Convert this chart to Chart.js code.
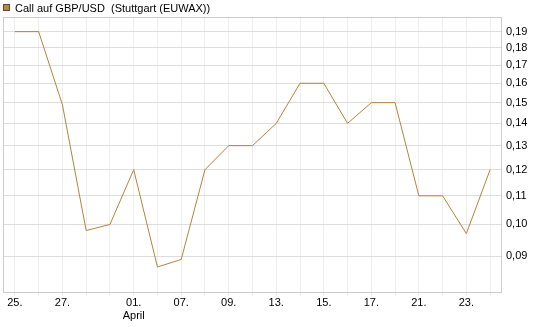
<!DOCTYPE html>
<html>
<head>
<meta charset="utf-8">
<script src="https://cdn.jsdelivr.net/npm/chart.js@4"></script>
<style>
html,body{margin:0;padding:0;background:#fff;}
#wrap{width:545px;height:327px;position:relative;}
</style>
</head>
<body>
<div id="wrap"><canvas id="c" width="545" height="327"></canvas></div>
<script>
const seriesName = 'Call auf GBP/USD  (Stuttgart (EUWAX))';
const categories = ['25.','26.','27.','28.','31.','01.','03.','07.','08.','09.','10.','13.','14.','15.','16.','17.','18.','21.','22.','23.','24.'];
const shownTickLabels = ['25.','27.',['01.','April'],'07.','09.','13.','15.','17.','21.','23.'];
const shownTickIndex = [0,2,5,7,9,11,13,15,17,19];
const values = [0.19,0.19,0.149,0.098,0.100,0.12,0.0868,0.089,0.12,0.13,0.13,0.14,0.16,0.16,0.14,0.15,0.15,0.11,0.11,0.097,0.12];
const yTicks = [0.09,0.10,0.11,0.12,0.13,0.14,0.15,0.16,0.17,0.18,0.19];
const yMin = 0.0796, yMax = 0.1995;

const lineColor = '#b4833a';

const boxPlugin = {
  id: 'boxPlugin',
  afterDraw(chart) {
    const {ctx, chartArea: a} = chart;
    ctx.save();
    ctx.strokeStyle = '#cccccc';
    ctx.lineWidth = 1;
    ctx.strokeRect(Math.round(a.left) + 0.5, Math.round(a.top) + 0.5, Math.round(a.right - a.left) - 1, Math.round(a.bottom - a.top) - 1);
    // legend
    ctx.fillStyle = '#b5884a';
    ctx.fillRect(3, 4, 7, 7);
    ctx.strokeStyle = '#5e4a2e';
    ctx.strokeRect(3.5, 4.5, 6, 6);
    ctx.fillStyle = '#000';
    ctx.font = '11px "Liberation Sans", Arial, sans-serif';
    ctx.textBaseline = 'middle';
    ctx.textAlign = 'left';
    ctx.fillText(seriesName, 15, 8.5);
    ctx.restore();
  }
};

new Chart(document.getElementById('c'), {
  type: 'line',
  data: {
    labels: categories,
    datasets: [{
      label: seriesName,
      data: values,
      borderColor: lineColor,
      borderWidth: 1,
      pointRadius: 0,
      tension: 0,
      fill: false
    }]
  },
  options: {
    responsive: false,
    animation: false,
    devicePixelRatio: 1,
    layout: { padding: { top: 17, left: 3, right: 0, bottom: 0 } },
    plugins: { legend: { display: false }, tooltip: { enabled: false } },
    scales: {
      x: {
        type: 'category',
        offset: true,
        grid: { color: '#eeeeee', drawTicks: true, tickLength: 3, offset: false },
        border: { display: false },
        ticks: {
          autoSkip: false, maxRotation: 0, minRotation: 0, padding: 0,
          color: '#000',
          font: { family: '"Liberation Sans", Arial, sans-serif', size: 11 },
          callback: function(v, i) {
            const k = shownTickIndex.indexOf(i);
            return k >= 0 ? shownTickLabels[k] : '';
          }
        },
        afterFit(scale) { scale.height = 34; }
      },
      y: {
        type: 'logarithmic',
        position: 'right',
        min: yMin, max: yMax,
        grid: { color: '#dddddd', drawTicks: false },
        border: { display: false },
        afterBuildTicks(scale) { scale.ticks = yTicks.map(v => ({ value: v })); },
        ticks: {
          padding: 4,
          color: '#000',
          font: { family: '"Liberation Sans", Arial, sans-serif', size: 11 },
          callback: v => v.toFixed(2).replace('.', ',')
        },
        afterFit(scale) { scale.width = 43; }
      }
    }
  },
  plugins: [boxPlugin]
});
</script>
</body>
</html>
